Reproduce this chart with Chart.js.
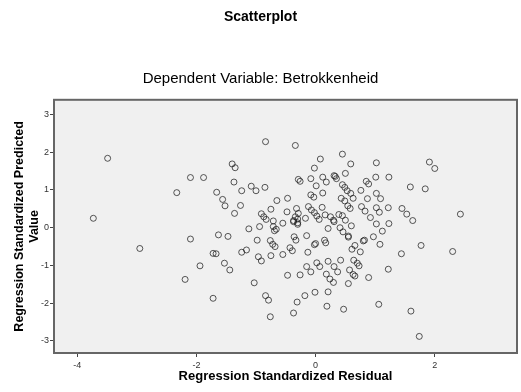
<!DOCTYPE html>
<html>
<head>
<meta charset="utf-8">
<script src="https://cdn.jsdelivr.net/npm/chart.js@4"></script>
<style>
  html, body { margin: 0; padding: 0; background: #ffffff; }
  #wrap { width: 521px; height: 392px; position: relative; }
</style>
</head>
<body>
<div id="wrap"><canvas id="chart"></canvas></div>
<script>
// regression standardized residual (x) vs standardized predicted value (y)
const residuals = [
  -3.49, -3.73, -2.10, -1.88, -2.33, -2.10, -2.95, -1.94, -2.19, -1.72,
  -1.72, -0.84, -0.34, 0.45, 0.08, 0.59, -1.40, -1.35, -0.02, -1.37,
  -1.08, -1.00, -0.85, -1.24, -1.66, -0.29, -0.26, -0.08, 0.12, 0.18,
  0.01, 0.12, -0.08, -0.03, 0.31, 0.33, 0.50, 0.45, 0.49, 0.53,
  0.59, 0.63, 0.43, 0.49, 0.54, 0.58, -1.56, -1.52, -1.26, -1.36,
  -0.65, -0.47, -0.75, -0.91, -0.87, -0.83, -0.48, -0.32, -0.29, -0.34,
  -0.30, -0.17, -0.12, -0.07, -0.02, 0.02, 0.06, 0.11, 0.16, 0.25,
  0.30, -0.55, -0.94, -1.12, -0.71, 0.45, 0.50, 0.41, 0.60, 0.21,
  1.02, 1.91, 2.00, 1.01, 1.23, 0.85, 0.89, 0.76, 1.59, 1.84,
  1.02, 1.09, 0.87, 0.77, 0.83, 1.02, 1.07, 1.22, 1.45, 1.53,
  1.63, 0.92, 2.43, 1.02, 1.23, 1.12, 1.77, 2.30, 0.97, 0.80,
  0.82, 1.08, 0.66, 0.61, 0.75, 1.44, 0.64, 0.70, 0.73, 0.57,
  0.63, 0.66, 0.55, 0.89, 1.22, 1.06, 1.60, 1.74, 0.55, -0.69,
  -0.37, -0.30, 0.31, 0.46, 0.55, -0.98, -0.76, -0.72, -0.68, -0.36,
  -0.33, -0.15, -0.02, 0.00, 0.15, 0.17, -1.24, -1.16, -0.96, -0.91,
  -0.75, -0.55, -0.43, -0.39, -0.13, -0.15, -0.08, 0.02, 0.07, 0.21,
  0.42, 0.31, 0.37, 0.18, 0.24, 0.30, -0.47, -0.26, -1.03, -0.84,
  -0.79, -0.31, -0.18, -0.01, 0.21, 0.19, 0.47, -0.37, -0.76, -1.63,
  -1.47, -1.67, -1.53, -1.44, 0.39, 0.35, -0.66, -0.71, -0.37, -0.30
];
const predicted = [
  1.84, 0.25, 1.33, 1.33, 0.93, -0.30, -0.55, -1.01, -1.37, -0.68,
  -1.87, 2.28, 2.18, 1.95, 1.82, 1.69, 1.69, 1.59, 1.58, 1.21,
  1.10, 0.98, 1.07, 0.98, 0.94, 1.28, 1.23, 1.30, 1.34, 1.21,
  1.11, 0.92, 0.87, 0.81, 1.38, 1.36, 1.44, 1.14, 1.07, 0.98,
  0.91, 0.78, 0.78, 0.71, 0.58, 0.51, 0.75, 0.58, 0.59, 0.38,
  0.72, 0.78, 0.49, 0.37, 0.29, 0.22, 0.42, 0.51, 0.38, 0.29,
  0.23, 0.25, 0.56, 0.47, 0.40, 0.31, 0.22, 0.54, 0.34, 0.29,
  0.20, 0.12, 0.03, -0.03, 0.03, 0.32, 0.20, 0.00, 0.05, -0.02,
  1.72, 1.74, 1.57, 1.34, 1.34, 1.23, 1.16, 0.99, 1.08, 1.03,
  0.91, 0.77, 0.77, 0.56, 0.44, 0.53, 0.41, 0.53, 0.51, 0.36,
  0.19, 0.27, 0.36, 0.10, 0.11, -0.09, -0.47, -0.63, -0.24, -0.35,
  -0.33, -0.44, -0.47, -0.57, -0.64, -0.69, -0.86, -0.94, -1.01, -1.12,
  -1.24, -1.28, -1.48, -1.32, -1.10, -2.03, -2.21, -2.88, -0.22, -0.08,
  0.16, 0.09, 0.16, -0.11, -0.25, -0.33, -0.34, -0.44, -0.50, -0.24,
  -0.33, -0.21, -0.45, -0.42, -0.33, -0.40, -0.65, -0.59, -0.77, -0.88,
  -0.74, -0.71, -0.53, -0.61, -0.65, -1.03, -1.17, -0.93, -1.03, -0.89,
  -0.86, -1.03, -1.17, -1.23, -1.36, -1.45, -1.26, -1.25, -1.46, -1.80,
  -1.92, -1.97, -1.80, -1.71, -1.70, -2.08, -2.16, -2.26, -2.36, -0.19,
  -0.23, -0.69, -0.94, -1.12, 0.35, 1.30, -0.04, 0.18, 0.19, 0.13
];
const xTicks = [-4, -2, 0, 2];
const yTicks = [-3, -2, -1, 0, 1, 2, 3];

const points = residuals.map((r, i) => ({ x: r, y: predicted[i] }));

// grey plot background and dark frame, SPSS style
const frame = {
  id: "frame",
  beforeDraw(chart) {
    const a = chart.chartArea, c = chart.ctx;
    c.save();
    c.fillStyle = "#f0f0f0";
    c.fillRect(a.left, a.top, a.right - a.left, a.bottom - a.top);
    c.restore();
  },
  afterDraw(chart) {
    const a = chart.chartArea, c = chart.ctx;
    c.save();
    c.strokeStyle = "#666";
    c.lineWidth = 2;
    c.strokeRect(a.left, a.top, a.right - a.left, a.bottom - a.top);
    c.restore();
  }
};

const font = "Arial, 'Liberation Sans', sans-serif";
const ctx = document.getElementById("chart");

new Chart(ctx, {
  type: "scatter",
  data: {
    datasets: [{
      data: points,
      pointStyle: "circle",
      pointRadius: 3,
      pointHoverRadius: 3,
      borderWidth: 1,
      borderColor: "rgba(25,25,25,0.72)",
      backgroundColor: "rgba(0,0,0,0)"
    }]
  },
  options: {
    responsive: true,
    maintainAspectRatio: false,
    animation: false,
    layout: { padding: { left: 0, right: 0, top: 0, bottom: 0 } },
    plugins: {
      legend: { display: false },
      tooltip: { enabled: false },
      title: {
        display: true,
        text: "Scatterplot",
        color: "#000",
        font: { family: font, size: 14, weight: "bold" },
        padding: { top: 9, bottom: 44 }
      },
      subtitle: {
        display: true,
        text: "Dependent Variable: Betrokkenheid",
        color: "#000",
        font: { family: font, size: 15, weight: "normal" },
        padding: { top: 0, bottom: 12 }
      }
    },
    scales: {
      x: {
        type: "linear",
        min: -4.39,
        max: 3.38,
        afterBuildTicks: s => { s.ticks = xTicks.map(v => ({ value: v })); },
        afterFit: s => { s.height = 39; },
        grid: { drawOnChartArea: false, drawTicks: true, tickLength: 4, color: "#444" },
        border: { display: false },
        ticks: {
          color: "#333",
          padding: 3,
          maxRotation: 0,
          font: { family: font, size: 9 }
        },
        title: {
          display: true,
          text: "Regression Standardized Residual",
          color: "#000",
          font: { family: font, size: 13, weight: "bold" },
          padding: { top: 2, bottom: 8 }
        }
      },
      y: {
        type: "linear",
        min: -3.32,
        max: 3.39,
        afterBuildTicks: s => { s.ticks = yTicks.map(v => ({ value: v })); },
        afterFit: s => { s.width = 54; },
        grid: { drawOnChartArea: false, drawTicks: true, tickLength: 4, color: "#444" },
        border: { display: false },
        ticks: {
          color: "#333",
          padding: 1,
          font: { family: font, size: 9 }
        },
        title: {
          display: true,
          text: ["Regression Standardized Predicted", "Value"],
          color: "#000",
          font: { family: font, size: 12.5, weight: "bold", lineHeight: 1.2 },
          padding: { top: 12, bottom: 0 }
        }
      }
    }
  },
  plugins: [frame]
});
</script>
</body>
</html>
